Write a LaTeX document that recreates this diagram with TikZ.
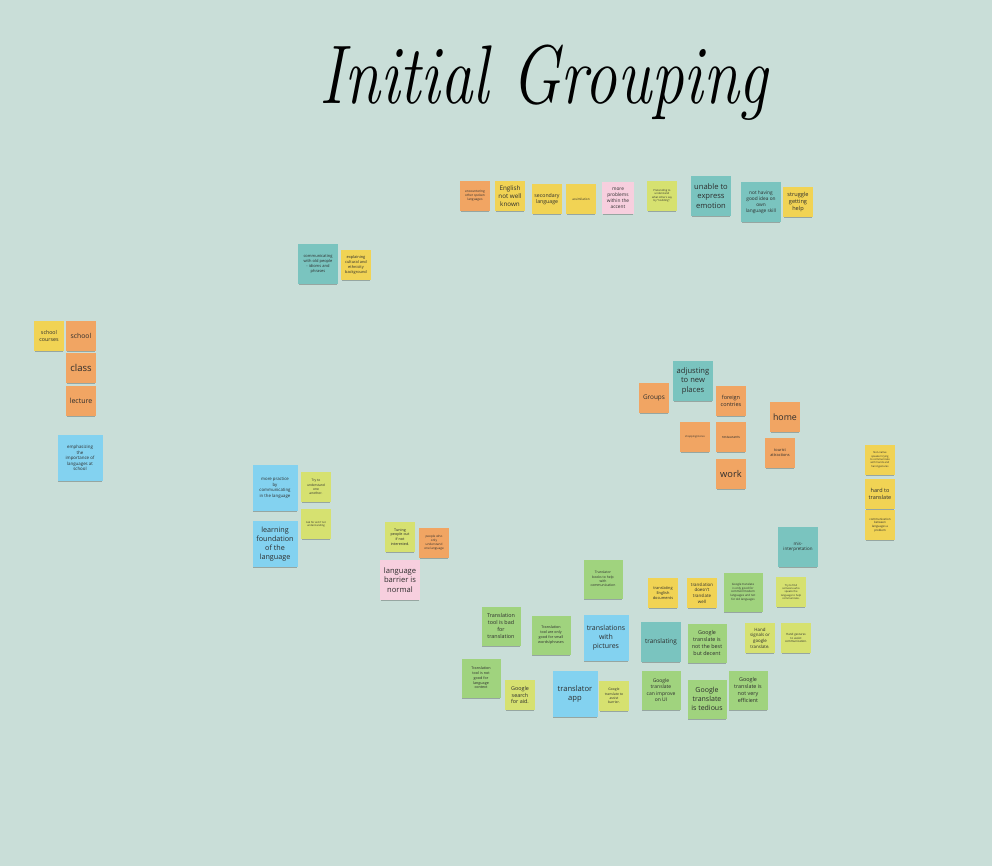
\documentclass[tikz,border=0pt]{standalone}
\usepackage{fontspec}
\setmainfont{Open Sans}
\usetikzlibrary{shadows}
\definecolor{bg}{RGB}{201,222,216}
\definecolor{cor}{RGB}{241,165,99}
\definecolor{cye}{RGB}{241,211,84}
\definecolor{cpk}{RGB}{247,207,222}
\definecolor{cli}{RGB}{214,225,112}
\definecolor{cte}{RGB}{122,196,191}
\definecolor{cbl}{RGB}{131,210,240}
\definecolor{cgr}{RGB}{160,211,126}
\definecolor{ink}{RGB}{45,45,45}
\newcommand\fz[1]{\fontsize{#1pt}{\fpeval{#1*1.28}pt}\selectfont}
\newcommand\nt[5]{\node[sticky,#1,font=\fz{#2}] (#3) at (#4) {#5};}
\tikzset{
  sticky/.style={rectangle, align=center, inner sep=1pt, text=ink,
    drop shadow={shadow xshift=0pt, shadow yshift=-2pt, opacity=0.25, fill=black, shadow scale=0.96}},
  s30/.style={minimum width=30pt, minimum height=30pt},
  s32/.style={minimum width=32pt, minimum height=32pt},
  s39/.style={minimum width=39pt, minimum height=39pt},
  s40/.style={minimum width=40pt, minimum height=40pt},
  s45/.style={minimum width=45pt, minimum height=46pt},
  or/.style={fill=cor}, ye/.style={fill=cye}, pk/.style={fill=cpk},
  li/.style={fill=cli}, te/.style={fill=cte}, bl/.style={fill=cbl}, gr/.style={fill=cgr}
}
\begin{document}
\begin{tikzpicture}[x=1pt,y=-1pt]
\fill[bg] (0,0) rectangle (992,866);
\useasboundingbox (0,0) rectangle (992,866);
\node[text=black] (title) at (544,83) {\scalebox{1}[1.28]{\fontsize{65pt}{72pt}\selectfont\fontspec{Latin Modern Roman}\itshape Initial Grouping}};
% top row
\nt{or,s30}{3.2}{n1}{475,196}{encountering\\other spoken\\languages}
\nt{ye,s30}{6.3}{n2}{510,196}{English\\not well\\known}
\nt{ye,s30}{5.2}{n3}{547,199}{secondary\\language}
\nt{ye,s30}{3.1}{n4}{581,199}{assimilation}
\nt{pk,s32}{4.8}{n5}{618,198}{more\\problems\\within the\\accent}
\nt{li,s30}{2.7}{n6}{662,196}{Pretending to\\understand\\what others say\\by ``nodding''.}
\nt{te,s40}{7.6}{n7}{711,196}{unable to\\express\\emotion}
\nt{te,s40}{4.8}{n8}{761,202}{not having\\good idea on\\own\\language skill}
\nt{ye,s30}{5.6}{n9}{798,202}{struggle\\getting\\help}
% left middle
\nt{te,s40}{4}{n10}{318,264}{communicating\\with old people\\- idioms and\\phrases}
\nt{ye,s30}{3.9}{n11}{356,265}{explaining\\cultural and\\ethnicity\\background}
% school
\nt{ye,s30}{5.3}{n12}{49,336}{school\\courses}
\nt{or,s30}{6.8}{n13}{81,336}{school}
\nt{or,s30}{9.5}{n14}{81,368}{class}
\nt{or,s30}{7}{n15}{81,401}{lecture}
\nt{bl,s45}{4.4}{n16}{80,458}{emphasizing\\the\\importance of\\languages at\\school}
% practice
\nt{bl,s45}{4.3}{n17}{275,488}{more practice\\by\\communicating\\in the language}
\nt{li,s30}{3.3}{n18}{316,487}{Try to\\understand\\one\\another.}
\nt{li,s30}{2.6}{n19}{316,524}{Ask for aid if not\\understanding}
\nt{bl,s45}{7.2}{n20}{275,544}{learning\\foundation\\of the\\language}
\nt{li,s30}{3.7}{n21}{400,537}{Tuning\\people out\\if not\\interested.}
\nt{or,s30}{3.1}{n22}{434,543}{people who\\only\\understand\\one language}
\nt{pk,s40}{7.6}{n23}{400,580}{language\\barrier is\\normal}
% places
\nt{or,s30}{6.4}{n24}{654,398}{Groups}
\nt{te,s40}{7.6}{n25}{693,381}{adjusting\\to new\\places}
\nt{or,s30}{5.5}{n26}{731,401}{foreign\\contries}
\nt{or,s30}{8.8}{n27}{785,417}{home}
\nt{or,s30}{2.6}{n28}{695,437}{shopping/stores}
\nt{or,s30}{3.4}{n29}{731,437}{restaurants}
\nt{or,s30}{3.9}{n30}{780,453}{tourist\\attractions}
\nt{or,s30}{9.3}{n31}{731,474}{work}
% far right
\nt{ye,s30}{2.6}{n32}{880,460}{Non-native\\speaker trying\\to communicate\\with hands and\\hand gestures}
\nt{ye,s30}{5.5}{n33}{880,494}{hard to\\translate}
\nt{ye,s30}{2.9}{n34}{880,525}{communication\\between\\languages a\\problem}
% translation
\nt{te,s40}{4.5}{n35}{798,547}{mis-\\interpretation}
\nt{gr,s39}{3.4}{n36}{603,579}{Translator\\books to help\\with\\communication}
\nt{gr,s39}{5.4}{n37}{501,626}{Translation\\tool is bad\\for\\translation}
\nt{gr,s39}{3.7}{n38}{551,635}{Translation\\tool are only\\good for small\\words/phrases}
\nt{bl,s45}{7}{n39}{606,638}{translations\\with\\pictures}
\nt{gr,s39}{3.7}{n40}{481,678}{Translation\\tool is not\\good for\\language\\context}
\nt{li,s30}{5.4}{n41}{520,695}{Google\\search\\for aid.}
\nt{bl,s45}{7.6}{n42}{575,694}{translator\\app}
\nt{li,s30}{3.4}{n43}{614,696}{Google\\translate to\\assist\\barrier.}
\nt{ye,s30}{3.9}{n44}{663,593}{translating\\English\\documents}
\nt{ye,s30}{4.4}{n45}{702,593}{translation\\doesn't\\translate\\well}
\nt{gr,s39}{2.9}{n46}{743,592}{Google translate\\is only good for\\common/modern\\languages and not\\for old languages}
\nt{li,s30}{2.6}{n47}{791,592}{Try to find\\someone who\\speaks the\\language to help\\communicate.}
\nt{te,s40}{6.4}{n48}{661,642}{translating}
\nt{gr,s39}{5.4}{n49}{707,643}{Google\\translate is\\not the best\\but decent}
\nt{li,s30}{4.4}{n50}{760,638}{Hand\\signals or\\google\\translate.}
\nt{li,s30}{2.9}{n51}{796,638}{Hand gestures\\to assist\\communication.}
\nt{gr,s39}{5}{n52}{661,690}{Google\\translate\\can improve\\on UI}
\nt{gr,s39}{7}{n53}{707,699}{Google\\translate\\is tedious}
\nt{gr,s39}{5.4}{n54}{748,690}{Google\\translate is\\not very\\efficient}
\end{tikzpicture}
\end{document}
